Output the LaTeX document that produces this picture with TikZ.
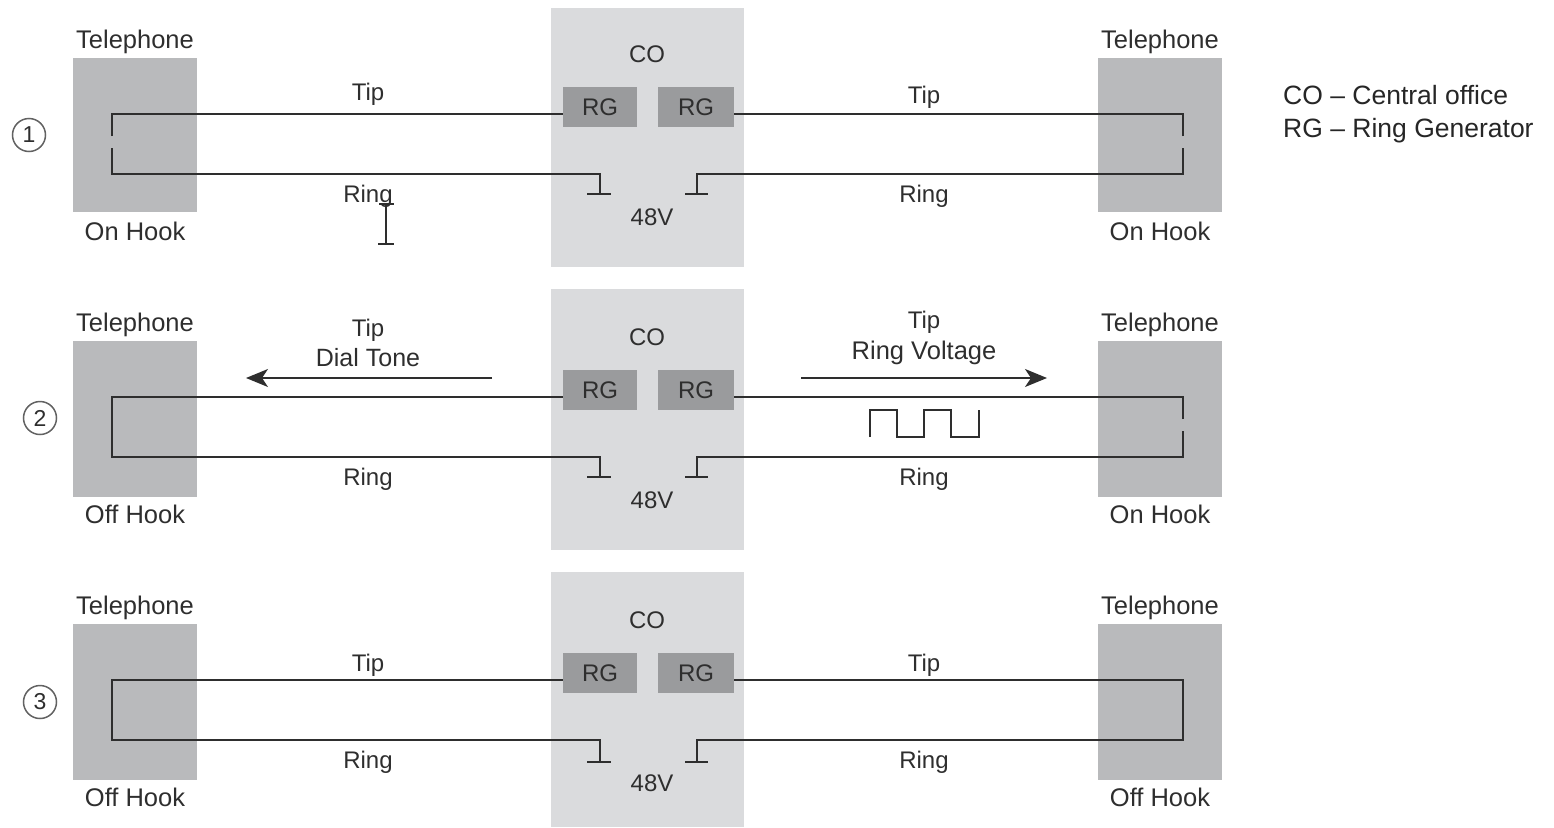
\documentclass[tikz,border=0pt]{standalone}
\usepackage{fontspec}
\setmainfont{Liberation Sans}
\usetikzlibrary{arrows.meta}
\definecolor{telefill}{HTML}{B9BABC}
\definecolor{cofill}{HTML}{DADBDD}
\definecolor{rgfill}{HTML}{9A9B9D}
\definecolor{ink}{HTML}{2E2E2E}
\tikzset{
  x=1pt,y=-1pt,
  txt/.style={inner sep=0pt,yshift=-2pt,text=ink,font=\fontsize{24}{28}\selectfont,text height=18pt,text depth=5pt},
  widetxt/.style={txt,font=\fontsize{25.5}{28}\selectfont},
  telebox/.style={fill=telefill,minimum width=124pt,inner sep=0pt},
  cobox/.style={fill=cofill,minimum width=193pt,inner sep=0pt},
  rgbox/.style={fill=rgfill,minimum height=40pt,inner sep=0pt,text=ink,font=\fontsize{24}{28}\selectfont},
  wire/.style={draw=ink,line width=1.6pt,line join=miter},
  num/.style={circle,draw=ink!75,line width=1.5pt,minimum size=33pt,inner sep=0pt,text=ink,font=\fontsize{23}{26}\selectfont},
  legend/.style={inner sep=0pt,anchor=west,yshift=-2pt,text=black!85,font=\fontsize{26.5}{30}\selectfont,text height=19pt,text depth=5pt},
  flow/.style={wire,-{Stealth[length=22pt,width=18pt,inset=6pt]}}
}
\begin{document}
\begin{tikzpicture}
\useasboundingbox (0,0) rectangle (1554,827);
\foreach \i/\off/\nx/\ny/\ltxt/\rtxt/\cy/\ch/\ty/\th/\gy in {1/0/29/135/On Hook/On Hook/137.5/259/135/154/194,2/283/40/135/Off Hook/On Hook/136.5/261/136/156/194,3/566/40/136/Off Hook/Off Hook/133.5/255/136/156/196}{
 \begin{scope}[yshift=-\off pt]
  \node[cobox,minimum height=\ch pt] (co\i) at (647.5,\cy) {};
  \node[telebox,minimum height=\th pt] (tl\i) at (135,\ty) {};
  \node[telebox,minimum height=\th pt] (tr\i) at (1160,\ty) {};
  \node[rgbox,minimum width=74pt] (rgl\i) at (600,107) {RG};
  \node[rgbox,minimum width=76pt] (rgr\i) at (696,107) {RG};
  \node[widetxt] (telL\i) at (135,40) {Telephone};
  \node[widetxt] (telR\i) at (1160,40) {Telephone};
  \node[widetxt] (hookL\i) at (135,232) {\ltxt};
  \node[widetxt] (hookR\i) at (1160,232) {\rtxt};
  \node[txt] (coT\i) at (647,54) {CO};
  \node[txt] (v\i) at (652,217) {48V};
  \node[txt] (ringL\i) at (368,194) {Ring};
  \node[txt] (ringR\i) at (924,194) {Ring};
  \node[num] (n\i) at (\nx,\ny) {\i};
  \coordinate (a\i) at (563,114);
  \coordinate (b\i) at (734,114);
  \coordinate (lt\i) at (112,114);
  \coordinate (rt\i) at (1183,114);
  \coordinate (lb\i) at (112,174);
  \coordinate (rb\i) at (1183,174);
  \coordinate (lgt\i) at (112,136);
  \coordinate (lgb\i) at (112,148);
  \coordinate (rgt\i) at (1183,136);
  \coordinate (rgb\i) at (1183,148);
  \coordinate (gl\i) at (600,174);
  \coordinate (gr\i) at (697,174);
  \coordinate (glb\i) at (600,\gy);
  \coordinate (grb\i) at (697,\gy);
  \coordinate (gla\i) at (587,\gy);
  \coordinate (glc\i) at (611,\gy);
  \coordinate (gra\i) at (685,\gy);
  \coordinate (grc\i) at (708,\gy);
  \draw[wire] (lgt\i) -- (lt\i) -- (a\i);
  \draw[wire] (lgb\i) -- (lb\i) -- (gl\i) -- (glb\i);
  \draw[wire] (gla\i) -- (glc\i);
  \draw[wire] (rgt\i) -- (rt\i) -- (b\i);
  \draw[wire] (rgb\i) -- (rb\i) -- (gr\i) -- (grb\i);
  \draw[wire] (gra\i) -- (grc\i);
 \end{scope}
}
% panel 1
\node[txt] (tip1l) at (368,92) {Tip};
\node[txt] (tip1r) at (924,95) {Tip};
\coordinate (ibt) at (386,204);
\coordinate (ibb) at (386,244);
\coordinate (ibta) at (379,204);
\coordinate (ibtb) at (394,204);
\coordinate (ibba) at (378,244);
\coordinate (ibbb) at (394,244);
\draw[wire] (ibt) -- (ibb);
\draw[wire] (ibta) -- (ibtb);
\draw[wire] (ibba) -- (ibbb);
% panel 2
\node[txt] (tip2l) at (368,328) {Tip};
\node[widetxt,font=\fontsize{25}{28}\selectfont] (dial) at (368,358) {Dial Tone};
\node[txt] (tip2r) at (924,320) {Tip};
\node[widetxt] (rv) at (924,351) {Ring Voltage};
\coordinate (ar1s) at (492,378);
\coordinate (ar1e) at (246,378);
\coordinate (ar2s) at (801,378);
\coordinate (ar2e) at (1047,378);
\draw[flow] (ar1s) -- (ar1e);
\draw[flow] (ar2s) -- (ar2e);
\coordinate (sq) at (870,437);
\draw[draw=ink,line width=1.4pt] (sq) -- ++(0,-27) -- ++(27,0) -- ++(0,27) -- ++(27,0) -- ++(0,-27) -- ++(27,0) -- ++(0,27) -- ++(28,0) -- ++(0,-27);
\draw[wire] (lgt2) -- (lgb2);
% panel 3
\node[txt] (tip3l) at (368,663) {Tip};
\node[txt] (tip3r) at (924,663) {Tip};
\draw[wire] (lgt3) -- (lgb3);
\draw[wire] (rgt3) -- (rgb3);
% legend
\node[legend] (leg1) at (1283,95) {CO – Central office};
\node[legend] (leg2) at (1283,128) {RG – Ring Generator};
\end{tikzpicture}
\end{document}
